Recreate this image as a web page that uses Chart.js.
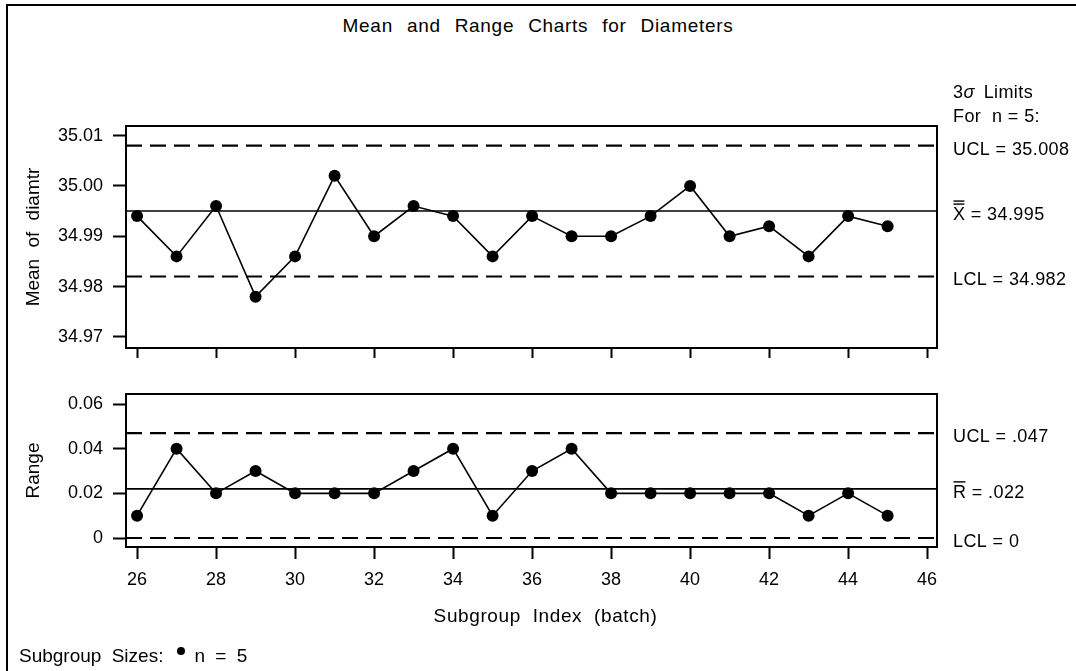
<!DOCTYPE html>
<html>
<head>
<meta charset="utf-8">
<title>Mean and Range Charts for Diameters</title>
<script src="https://cdn.jsdelivr.net/npm/chart.js@4.4.0/dist/chart.umd.min.js"></script>
<style>
body{margin:0;background:#fff;}
#page{position:relative;width:1076px;height:671px;overflow:hidden;background:#fff;font-family:"Liberation Sans",Arial,sans-serif;color:#000;}
#frame{position:absolute;left:6px;top:4px;width:1200px;height:800px;border-left:2px solid #000;border-top:2px solid #000;}
#title{position:absolute;left:0;width:1076px;top:15px;text-align:center;font-size:19px;letter-spacing:0.7px;word-spacing:8px;}
#footer{position:absolute;left:19px;top:645px;font-size:19px;word-spacing:5px;white-space:nowrap;}
#footer .dot{display:inline-block;width:8px;height:8px;border-radius:50%;background:#000;vertical-align:7px;margin:0 9px 0 14px;}
canvas{position:absolute;left:0;top:0;}
</style>
</head>
<body>
<div id="page">
  <div id="frame"></div>
  <div id="title">Mean and Range Charts for Diameters</div>
  <canvas id="meanChart" width="1076" height="671"></canvas>
  <canvas id="rangeChart" width="1076" height="671"></canvas>
  <div id="footer">Subgroup Sizes:<span class="dot"></span>n = 5</div>
</div>
<script>
// ── data ──
const subgroups = [26,27,28,29,30,31,32,33,34,35,36,37,38,39,40,41,42,43,44,45];
const means  = [34.994,34.986,34.996,34.978,34.986,35.002,34.990,34.996,34.994,34.986,
                34.994,34.990,34.990,34.994,35.000,34.990,34.992,34.986,34.994,34.992];
const ranges = [0.01,0.04,0.02,0.03,0.02,0.02,0.02,0.03,0.04,0.01,
                0.03,0.04,0.02,0.02,0.02,0.02,0.02,0.01,0.02,0.01];
const xTicks     = [26,28,30,32,34,36,38,40,42,44,46];
const meanTicks  = [34.97,34.98,34.99,35.00,35.01];
const rangeTicks = [0,0.02,0.04,0.06];
// UCL, centre, LCL
const meanLimits  = [35.008,34.995,34.982];
const rangeLimits = [0.047,0.022,0];

const FONT = '"Liberation Sans", Arial, sans-serif';
const X_MIN = 25.72, X_MAX = 46.25;

// ── plugin: frame, control limits and their labels ──
const controlPlugin = {
  id: 'control',
  beforeDraw(chart){ chart.ctx.wordSpacing = '6px'; },
  beforeDatasetsDraw(chart, args, opts){
    const {ctx, chartArea:a} = chart, y = chart.scales.y;
    ctx.save();
    ctx.strokeStyle = '#000';
    opts.limits.forEach((v,i)=>{
      const py = y.getPixelForValue(v);
      ctx.lineWidth = i===1 ? 1.6 : 2.2;
      ctx.setLineDash(i===1 ? [] : [16,8]);
      ctx.beginPath(); ctx.moveTo(a.left, py); ctx.lineTo(a.right, py); ctx.stroke();
    });
    ctx.restore();
  },
  afterDraw(chart, args, opts){
    const {ctx, chartArea:a} = chart, y = chart.scales.y;
    ctx.save();
    ctx.strokeStyle = '#000'; ctx.lineWidth = 2; ctx.setLineDash([]);
    ctx.strokeRect(a.left, a.top, a.right-a.left, a.bottom-a.top);
    ctx.fillStyle = '#000';
    ctx.textBaseline = 'middle'; ctx.textAlign = 'left';
    ctx.font = '18px ' + FONT;
    ctx.wordSpacing = '0px';
    ctx.letterSpacing = '0.4px';
    const lx = a.right + 16;
    if (opts.header){
      ctx.fillText('3', lx, a.top-33);
      const w3 = ctx.measureText('3').width;
      ctx.font = 'italic 18px ' + FONT;
      ctx.fillText('σ', lx+w3, a.top-33);
      const ws = ctx.measureText('σ').width;
      ctx.font = '18px ' + FONT;
      ctx.fillText('Limits', lx+w3+ws+9, a.top-33);
      ctx.fillText('For  n = 5:', lx, a.top-9);
    }
    opts.limits.forEach((v,i)=>{
      const py = y.getPixelForValue(v) + 4;
      const txt = opts.fmt(v);
      if (i===1){
        const sym = opts.center;
        ctx.fillText(sym, lx, py);
        const w = ctx.measureText(sym).width;
        ctx.lineWidth = 1.4;
        const bars = sym==='X' ? [-11,-14] : [-11];
        bars.forEach(d=>{ ctx.beginPath(); ctx.moveTo(lx+0.5, py+d); ctx.lineTo(lx+w-1, py+d); ctx.stroke(); });
        ctx.fillText(' = ' + txt, lx+w, py);
      } else {
        ctx.fillText((i===0?'UCL':'LCL') + ' = ' + txt, lx, py);
      }
    });
    if (opts.xTitle){
      ctx.font = '19px ' + FONT;
      ctx.textAlign = 'center';
      ctx.letterSpacing = '0.6px';
      ctx.wordSpacing = '6px';
      ctx.fillText(opts.xTitle, (a.left+a.right)/2 + 14, a.bottom + 70);
    }
    ctx.restore();
  }
};

function makeChart(id, o){
  return new Chart(document.getElementById(id), {
    type: 'line',
    plugins: [controlPlugin],
    data: {
      datasets: [{
        data: subgroups.map((s,i)=>({x:s, y:o.values[i]})),
        borderColor: '#000', borderWidth: 1.6,
        pointRadius: 6, pointBackgroundColor: '#000', pointBorderWidth: 0,
        tension: 0, clip: false
      }]
    },
    options: {
      responsive: false, animation: false, events: [],
      layout: { padding: o.padding },
      plugins: {
        legend: {display:false}, tooltip: {enabled:false},
        control: { limits: o.limits, fmt: o.limitFmt, center: o.center, header: o.header, xTitle: o.xTitle }
      },
      scales: {
        x: {
          type: 'linear', min: X_MIN, max: X_MAX,
          afterBuildTicks: s => { s.ticks = xTicks.map(v=>({value:v})); },
          afterFit: s => { s.height = o.xHeight; },
          border: {display:false},
          grid: {drawOnChartArea:false, drawTicks:true, tickLength:o.xTick, tickColor:'#000', tickWidth:2},
          ticks: {display:o.showX, autoSkip:false, maxRotation:0, padding:10, color:'#000', font:{family:FONT, size:18}}
        },
        y: {
          min: o.yMin, max: o.yMax,
          afterBuildTicks: s => { s.ticks = o.yTicks.map(v=>({value:v})); },
          afterFit: s => { s.width = 104; },
          border: {display:false},
          grid: {drawOnChartArea:false, drawTicks:true, tickLength:13, tickColor:'#000', tickWidth:2},
          ticks: {padding:10, color:'#000', font:{family:FONT, size:18}, callback: o.tickFmt},
          title: {display:true, text:o.yTitle, color:'#000', padding:0, font:{family:FONT, size:19}}
        }
      }
    }
  });
}

makeChart('meanChart', {
  values: means, yMin: 34.9678, yMax: 35.0119, yTicks: meanTicks,
  yTitle: 'Mean of diamtr', tickFmt: v => v.toFixed(2),
  limits: meanLimits, limitFmt: v => v.toFixed(3), center: 'X', header: true,
  showX: false, xTick: 10, xHeight: 10,
  padding: {left:22, right:139, top:126, bottom:313}
});

makeChart('rangeChart', {
  values: ranges, yMin: -0.00403, yMax: 0.0645, yTicks: rangeTicks,
  yTitle: 'Range', tickFmt: v => v===0 ? '0' : v.toFixed(2),
  limits: rangeLimits, limitFmt: v => v===0 ? '0' : v.toFixed(3).replace(/^0/,''), center: 'R', header: false,
  showX: true, xTick: 12, xHeight: 82, xTitle: 'Subgroup Index (batch)',
  padding: {left:22, right:139, top:394, bottom:42}
});
</script>
</body>
</html>
